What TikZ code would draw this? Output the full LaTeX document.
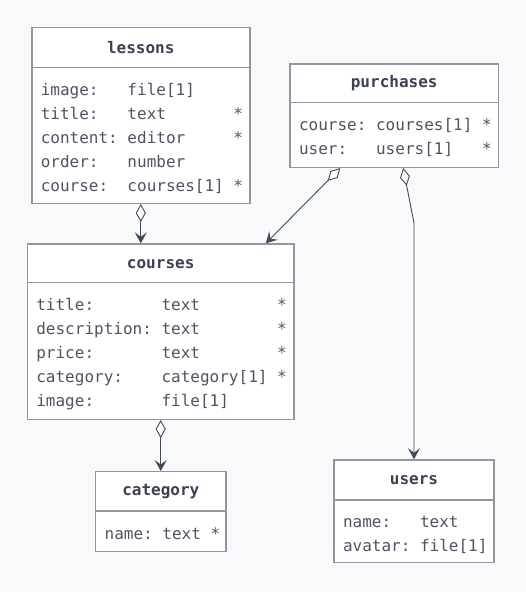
\documentclass[tikz,border=0pt]{standalone}
\usepackage{fontspec}
\setmonofont{DejaVu Sans Mono}
\usetikzlibrary{arrows.meta}

\definecolor{bggray}{HTML}{F8F9FA}
\definecolor{boxgray}{HTML}{93959F}
\definecolor{titlegray}{HTML}{3D4154}
\definecolor{textgray}{HTML}{505363}
\definecolor{linegray}{HTML}{45485A}

\tikzset{
  entity/.style={draw=boxgray, fill=white, line width=1.4pt, inner sep=0pt},
  sepline/.style={draw=boxgray, line width=1.4pt},
  title/.style={font=\ttfamily\bfseries\fontsize{16}{20}\selectfont, text=titlegray},
  field/.style={anchor=base west, inner sep=0pt, font=\ttfamily\fontsize{16}{20}\selectfont, text=textgray},
  aggr/.style={draw=linegray, line width=0.9pt,
    {Diamond[open, length=18pt, width=10pt, fill=white, line width=0.9pt]}-{Stealth[length=11pt, width=12pt, inset=4.5pt, line width=1.3pt]}}
}

\begin{document}
\frenchspacing
\begin{tikzpicture}[x=1pt, y=-1pt]
\path[fill=bggray] (0,0) rectangle (526,592);

% lessons
\node[entity, minimum width=218pt, minimum height=176pt] (lessons) at (140.8,115.3) {};
\draw[sepline] ([yshift=-41pt]lessons.north west) -- ([yshift=-41pt]lessons.north east);
\node[title] at ([yshift=-21pt]lessons.north) {lessons};
\foreach \t [count=\i] in {image:~~~file[1], title:~~~text~~~~~~~*, content:~editor~~~~~*, order:~~~number, course:~~courses[1]~*}
  \node[field] at ([xshift=9.5pt, yshift={-45pt-24pt*\i}]lessons.north west) {\t};

% purchases
\node[entity, minimum width=208.3pt, minimum height=103.3pt] (purchases) at (394.2,115.7) {};
\draw[sepline] ([yshift=-39.3pt]purchases.north west) -- ([yshift=-39.3pt]purchases.north east);
\node[title] at ([yshift=-20pt]purchases.north) {purchases};
\foreach \t [count=\i] in {course:~courses[1]~*, user:~~~users[1]~~~*}
  \node[field] at ([xshift=9.5pt, yshift={-43pt-24pt*\i}]purchases.north west) {\t};

% courses
\node[entity, minimum width=266.7pt, minimum height=175.3pt] (courses) at (160.7,331.7) {};
\draw[sepline] ([yshift=-39.3pt]courses.north west) -- ([yshift=-39.3pt]courses.north east);
\node[title] at ([yshift=-20.5pt]courses.north) {courses};
\foreach \t [count=\i] in {title:~~~~~~~text~~~~~~~~*, description:~text~~~~~~~~*, price:~~~~~~~text~~~~~~~~*, category:~~~~category[1]~*, image:~~~~~~~file[1]}
  \node[field] at ([xshift=9.5pt, yshift={-43pt-24pt*\i}]courses.north west) {\t};

% category
\node[entity, minimum width=130.3pt, minimum height=80pt] (category) at (160.8,511.7) {};
\draw[sepline] ([yshift=-40pt]category.north west) -- ([yshift=-40pt]category.north east);
\node[title] at ([yshift=-20.5pt]category.north) {category};
\node[field] (catname) at ([xshift=9.5pt, yshift=-68pt]category.north west) {name:~text~*};

% users
\node[entity, minimum width=160pt, minimum height=102.7pt] (users) at (414,511.3) {};
\draw[sepline] ([yshift=-40.7pt]users.north west) -- ([yshift=-40.7pt]users.north east);
\node[title] at ([yshift=-20.5pt]users.north) {users};
\foreach \t [count=\i] in {name:~~~text, avatar:~file[1]}
  \node[field] at ([xshift=9.5pt, yshift={-44.5pt-24pt*\i}]users.north west) {\t};

% relations
\draw[aggr] (lessons.south) -- (lessons.south |- courses.north);
\draw[aggr] ([xshift=51pt]purchases.south west) -- ([xshift=-29pt]courses.north east);
\coordinate (bend) at (users.north |- 0,223);
\draw[aggr] ([xshift=9pt]purchases.south) -- (bend) -- (users.north);
\draw[aggr] (courses.south) -- (courses.south |- category.north);
\end{tikzpicture}
\end{document}
